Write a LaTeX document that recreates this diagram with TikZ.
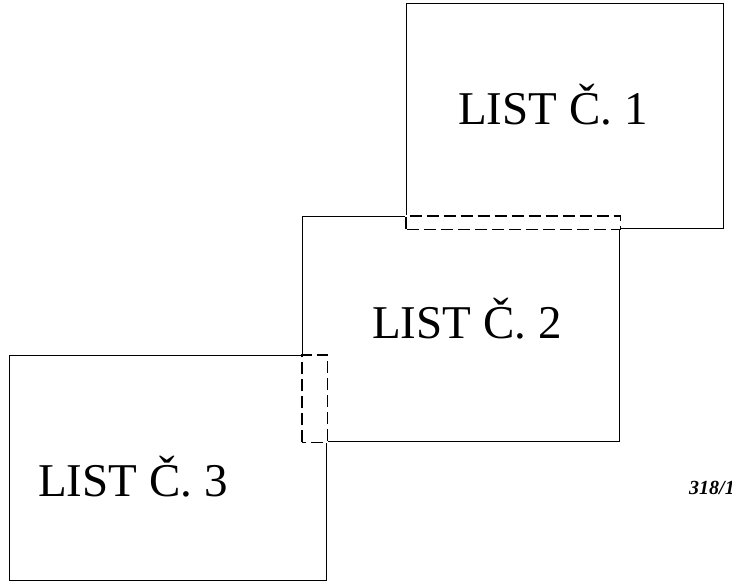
\documentclass[tikz,border=0pt]{standalone}
\usepackage{fontspec}
\setmainfont{Liberation Serif}
\usepackage{tikz}
\tikzset{
% Sheet outlines and the dashed parts where two sheets overlap
sheet/.style={rectangle,draw,line width=1.3pt,inner sep=0,minimum width=317pt,minimum height=225pt,anchor=north west},
overlap/.style={draw,line width=1.3pt,dash pattern=on 12pt off 5pt},
cover/.style={draw=white,fill=white,line width=2.2pt},
sheet label/.style={anchor=base west,inner sep=0,font=\fontsize{47}{50}\selectfont}
}

\begin{document}
\begin{tikzpicture}[x=1pt,y=-1pt]
      \useasboundingbox (0,0) rectangle (732,585);
      % The three sheets
      \node[sheet] (list1) at (406,3) {};
      \node[sheet] (list2) at (302,216) {};
      \node[sheet] (list3) at (9,355) {};
      % Labels
      \node[sheet label] (name1) at (458,125) {LIST Č. 1};
      \node[sheet label] (name2) at (372,339) {LIST Č. 2};
      \node[sheet label] (name3) at (38,497) {LIST Č. 3};
      \node[anchor=base west,inner sep=0,font=\fontsize{20}{22}\selectfont\bfseries\itshape] (number) at (689,495) {318/1};
      % Overlaps are dashed
      \draw[cover] (list1.south west) rectangle (list2.north east);
      \draw[overlap] (list1.south west) rectangle (list2.north east);
      \draw[cover] (list2.south west) rectangle (list3.north east);
      \draw[overlap] (list2.south west) rectangle (list3.north east);
    \end{tikzpicture}
\end{document}
